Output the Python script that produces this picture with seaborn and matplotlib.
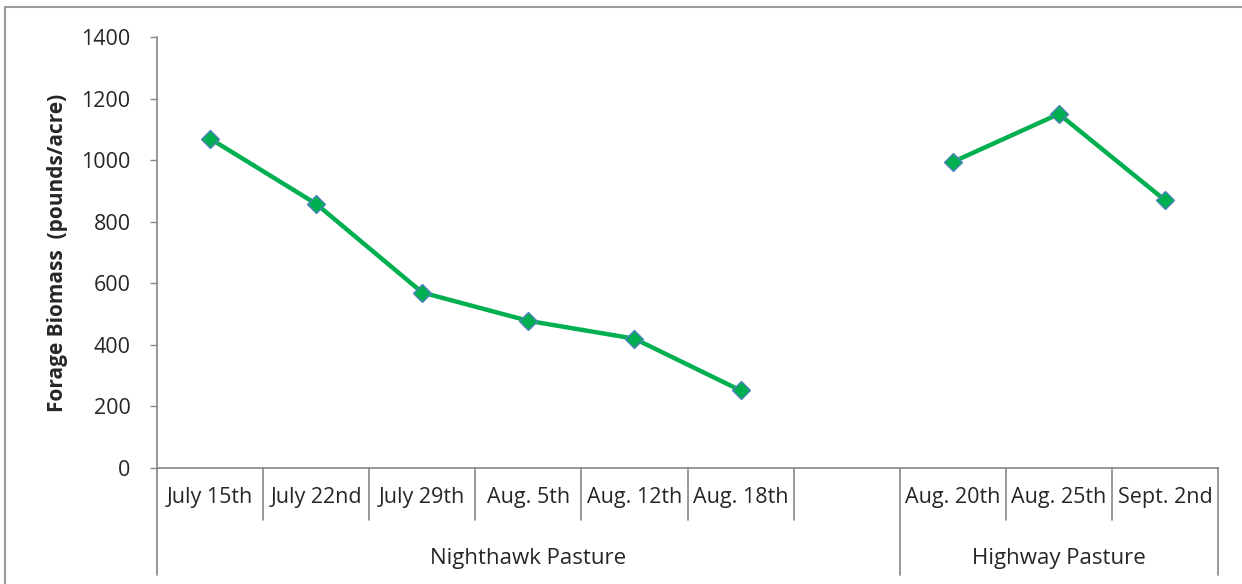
import numpy as np
import pandas as pd
import matplotlib.pyplot as plt
from matplotlib.lines import Line2D
import matplotlib.transforms as mtransforms
import seaborn as sns

# data
dates = ["July 15th", "July 22nd", "July 29th", "Aug. 5th", "Aug. 12th", "Aug. 18th",
         "", "Aug. 20th", "Aug. 25th", "Sept. 2nd"]
pasture = ["Nighthawk Pasture"] * 7 + ["Highway Pasture"] * 3
biomass = [1070, 858, 570, 478, 420, 252, np.nan, 994, 1150, 870]
groups = ["Nighthawk Pasture", "Highway Pasture"]

df = pd.DataFrame({"pos": range(len(dates)), "date": dates,
                   "pasture": pasture, "biomass": biomass}).dropna()

sns.set_style("white")
plt.rcParams['font.family'] = ['Open Sans', 'DejaVu Sans']

fig = plt.figure(figsize=(12.42, 5.84), dpi=100)
ax = fig.add_axes([157/1242, 1 - 468/584, (1218-157)/1242, (468-37)/584])

sns.lineplot(data=df, x="pos", y="biomass", hue="pasture", hue_order=groups,
             palette=["#00B050", "#00B050"], marker="D", markersize=9,
             markeredgecolor="#4F81BD", markeredgewidth=1, linewidth=3.2,
             legend=False, ax=ax)

grey = "#868686"
txt = "#262626"
ax.set_xlim(-0.5, len(dates) - 0.5)
ax.set_ylim(0, 1400)
ax.set_yticks(range(0, 1401, 200))
ax.set_xticks(range(len(dates)))
ax.set_xticklabels(dates, fontsize=15.5, color=txt)
ax.tick_params(axis="x", length=0, pad=14)
ax.tick_params(axis="y", length=5, width=1, color=grey, labelsize=15.5,
               labelcolor=txt, pad=14, left=True)
ax.set_xlabel("")
ax.set_ylabel("Forage Biomass  (pounds/acre)", fontsize=15, fontweight="bold",
              color=txt)
ax.yaxis.set_label_coords((58 - 157) / 1061, 0.5)
ax.yaxis.label.set_va("center")
for s in ["top", "right"]:
    ax.spines[s].set_visible(False)
for s in ["left", "bottom"]:
    ax.spines[s].set_color(grey)
    ax.spines[s].set_linewidth(1.2)

# category dividers below the axis
trans = mtransforms.blended_transform_factory(ax.transData, ax.transAxes)
bounds = [i - 0.5 for i in range(len(dates) + 1)]
group_edges = [-0.5, 6.5, len(dates) - 0.5]
for b in bounds:
    low = -0.248 if b in group_edges else -0.121
    ax.plot([b, b], [0, low], color=grey, lw=1.2, transform=trans, clip_on=False)

# group labels
for g in groups:
    idx = [i for i, p in enumerate(pasture) if p == g]
    mid = (idx[0] + idx[-1]) / 2
    ax.text(mid, -0.222, g, transform=trans, ha="center", va="baseline",
            fontsize=16, color=txt)

# outer frame (top and left visible)
fig.add_artist(Line2D([5/1242, 5/1242], [0, 1 - 7/584], color="#9a9a9a", lw=1.5))
fig.add_artist(Line2D([5/1242, 1], [1 - 7/584, 1 - 7/584], color="#9a9a9a", lw=1.5))

fig.savefig("out.png", dpi=100)
